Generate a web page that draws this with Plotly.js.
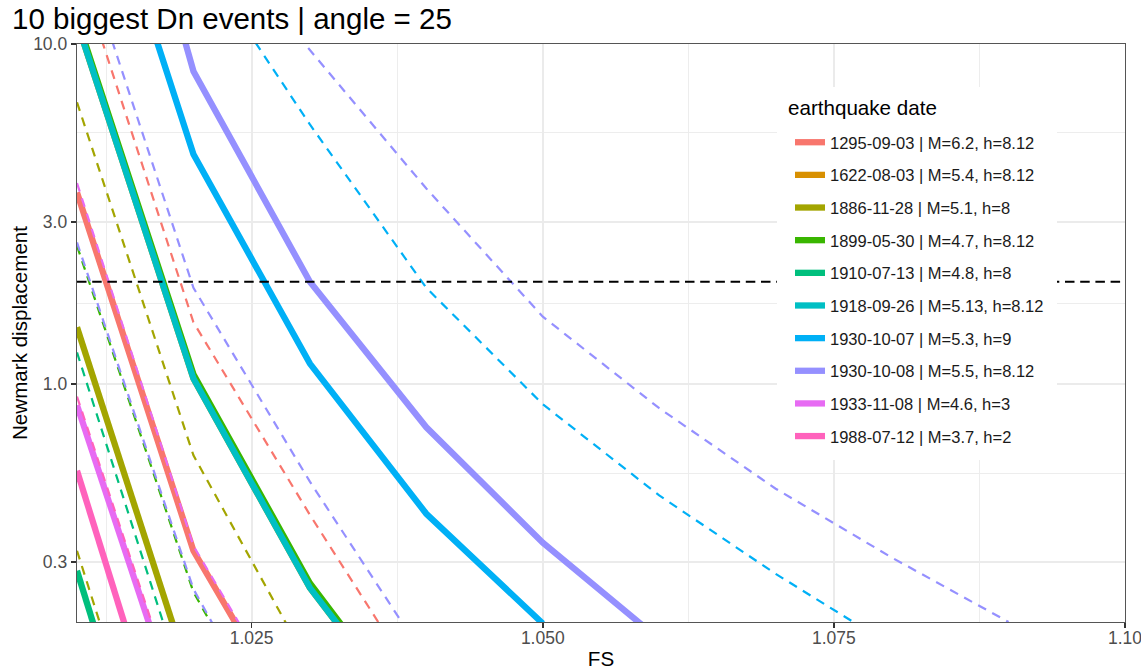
<!DOCTYPE html>
<html>
<head>
<meta charset="utf-8">
<script src="https://cdn.plot.ly/plotly-3.0.1.min.js"></script>
<style>html,body{margin:0;padding:0;background:#fff}#chart{width:1141px;height:670px}</style>
</head>
<body>
<div id="chart"></div>
<script>
// ---- data ----
const FS = [1.01, 1.02, 1.03, 1.04, 1.05, 1.06, 1.07, 1.08, 1.09, 1.10];

const events = [
  '1295-09-03 | M=6.2, h=8.12',
  '1622-08-03 | M=5.4, h=8.12',
  '1886-11-28 | M=5.1, h=8',
  '1899-05-30 | M=4.7, h=8.12',
  '1910-07-13 | M=4.8, h=8',
  '1918-09-26 | M=5.13, h=8.12',
  '1930-10-07 | M=5.3, h=9',
  '1930-10-08 | M=5.5, h=8.12',
  '1933-11-08 | M=4.6, h=3',
  '1988-07-12 | M=3.7, h=2'
];
const colors = ['#F8766D','#D89000','#A3A500','#39B600','#00BF7D','#00BFC4','#00B0F6','#9590FF','#E76BF3','#FF62BC'];

// solid lines (Newmark displacement per FS step)
const solid1295 = [3.66, 0.324, 0.084];
const solid1622 = [11.6, 1.04, 0.252, 0.09];
const solid1886 = [1.47, 0.128];
const solid1899 = [11.9, 1.07, 0.26, 0.092];
const solid1910 = [0.283, 0.022];
const solid1918 = [11.6, 1.04, 0.252, 0.09];
const solid1930a = [54, 4.74, 1.15, 0.416, 0.198];
const solid1930b = [134, 8.32, 2.0, 0.747, 0.342, 0.178];
const solid1933 = [0.867, 0.08];
const solid1988 = [0.557, 0.044];

// dashed lines
const dash1295 = [17.2, 1.52, 0.413, 0.12];
const dash1886 = [6.74, 0.618, 0.148];
const dash1886b = [0.324, 0.027];
const dash1899 = [2.55, 0.245, 0.06];
const dash1910 = [1.24, 0.105];
const dash1930a = [null, 19, 5.8, 1.92, 0.873, 0.471, 0.277, 0.17];
const dash1930b = [null, 24, 9.6, 3.76, 1.58, 0.85, 0.493, 0.309, 0.2];
const dash1930b2 = [21, 1.92, 0.517, 0.155];
const dash1930b3 = [2.61, 0.25, 0.06];
const dash1933 = [3.9, 0.335, 0.088];
const dash1988 = [0.92, 0.085];

const threshold = 2;

const xTickVals = [1.025, 1.05, 1.075, 1.10];
const xTickText = ['1.025', '1.050', '1.075', '1.10'];
const xMinor = [1.0125, 1.0375, 1.0625, 1.0875];
const yTickVals = [0.3, 1, 3, 10];
const yTickText = ['0.3', '1.0', '3.0', '10.0'];
const yMinor = [0.5477, 1.732, 5.477];

const legendTitle = 'earthquake date';

// ---- build traces ----
const solids = [solid1295, solid1622, solid1886, solid1899, solid1910, solid1918, solid1930a, solid1930b, solid1933, solid1988];
const traces = [];
solids.forEach((vals, i) => {
  traces.push({
    type: 'scatter', mode: 'lines', x: FS, y: vals,
    name: events[i], legendgroup: 'g' + i, showlegend: true,
    line: {color: colors[i], width: 6.3}, hoverinfo: 'skip'
  });
});
const dashed = [
  [dash1295, 0], [dash1886, 2], [dash1886b, 2], [dash1899, 3], [dash1910, 4],
  [dash1930a, 6], [dash1930b, 7], [dash1930b2, 7], [dash1930b3, 7], [dash1933, 8], [dash1988, 9]
];
dashed.forEach(([vals, i]) => {
  traces.push({
    type: 'scatter', mode: 'lines', x: FS, y: vals,
    name: events[i], legendgroup: 'g' + i, showlegend: false,
    line: {color: colors[i], width: 2.2, dash: '9px,7px'}, hoverinfo: 'skip'
  });
});

// plot area in pixels: x 77..1125, y 44..622
const PX = v => (v - 77) / 1048;
const PY = v => (622 - v) / 578;

const FONT = 'Liberation Sans, Arial, sans-serif';
const layout = {
  width: 1141, height: 670,
  margin: {l: 77, r: 16, t: 44, b: 48},
  paper_bgcolor: '#ffffff', plot_bgcolor: '#ffffff',
  font: {family: FONT, color: '#000'},
  title: {
    text: '10 biggest Dn events | angle = 25',
    x: 12 / 1141, xref: 'container', xanchor: 'left',
    y: 1 - 19 / 670, yref: 'container', yanchor: 'middle',
    font: {family: FONT, size: 29.5, color: '#000'}
  },
  xaxis: {
    range: [1.01, 1.10], tickmode: 'array', tickvals: xTickVals, ticktext: xTickText,
    ticks: 'outside', ticklen: 5, tickwidth: 1.5, tickcolor: '#333',
    tickfont: {size: 17.5, color: '#4D4D4D'}, ticklabeloverflow: 'allow',
    ticklabelstandoff: -5,
    showgrid: true, gridcolor: '#EBEBEB', gridwidth: 1.8,
    minor: {tickvals: xMinor, showgrid: true, gridcolor: '#EBEBEB', gridwidth: 0.9, ticklen: 0},
    showline: true, mirror: true, linecolor: '#555', linewidth: 1.3,
    zeroline: false,
    title: {text: 'FS', font: {size: 20.6, color: '#000'}, standoff: 7}
  },
  yaxis: {
    type: 'log', range: [Math.log10(0.2), 1],
    tickmode: 'array', tickvals: yTickVals, ticktext: yTickText,
    ticks: 'outside', ticklen: 5, tickwidth: 1.5, tickcolor: '#333',
    tickfont: {size: 17.5, color: '#4D4D4D'},
    showgrid: true, gridcolor: '#EBEBEB', gridwidth: 1.8,
    minor: {tickvals: yMinor, showgrid: true, gridcolor: '#EBEBEB', gridwidth: 0.9, ticklen: 0},
    showline: true, mirror: true, linecolor: '#555', linewidth: 1.3,
    zeroline: false,
    title: {text: 'Newmark displacement', font: {size: 20.6, color: '#000'}, standoff: 0}
  },
  legend: {
    x: PX(790), y: PY(125), xanchor: 'left', yanchor: 'top',
    bgcolor: 'rgba(0,0,0,0)', borderwidth: 0,
    font: {family: FONT, size: 16.5, color: '#1a1a1a'},
    tracegroupgap: 8.2, itemwidth: 30, traceorder: 'grouped'
  },
  shapes: [
    {type: 'line', xref: 'paper', x0: 0, x1: 1, yref: 'y', y0: threshold, y1: threshold,
     line: {color: '#000', width: 2, dash: '9.5px,5.7px'}, layer: 'above'},
    {type: 'rect', xref: 'paper', yref: 'paper', x0: PX(777), x1: PX(1057), y0: PY(460), y1: PY(87),
     fillcolor: '#ffffff', line: {width: 0}, layer: 'above'}
  ],
  annotations: [
    {text: legendTitle, xref: 'paper', yref: 'paper', x: PX(786), y: PY(107),
     xanchor: 'left', yanchor: 'middle', showarrow: false,
     font: {family: FONT, size: 20.6, color: '#000'}}
  ],
  showlegend: true
};

Plotly.newPlot('chart', traces, layout, {displayModeBar: false, staticPlot: true});
</script>
</body>
</html>
